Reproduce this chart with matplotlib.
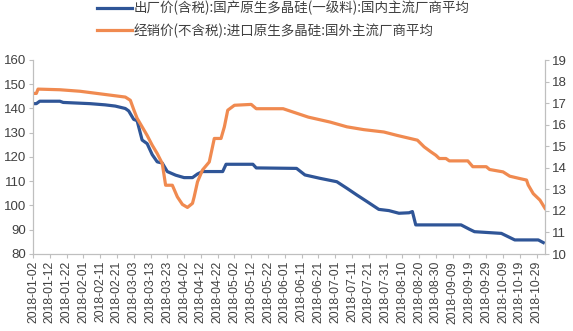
import matplotlib
matplotlib.use("Agg")
import matplotlib.pyplot as plt
import matplotlib.dates as mdates
import pandas as pd

plt.rcParams['font.family'] = ['Liberation Sans', 'Noto Sans CJK SC', 'DejaVu Sans']

blue_label = "出厂价(含税):国产原生多晶硅(一级料):国内主流厂商平均"
orange_label = "经销价(不含税):进口原生多晶硅:国外主流厂商平均"

blue_dates = ["2018-01-02", "2018-01-04", "2018-01-06", "2018-01-18", "2018-01-20", "2018-02-05",
              "2018-02-14", "2018-02-20", "2018-02-26", "2018-02-28", "2018-03-03", "2018-03-05",
              "2018-03-08", "2018-03-11", "2018-03-14", "2018-03-17", "2018-03-20", "2018-03-23",
              "2018-03-28", "2018-04-02", "2018-04-07", "2018-04-10", "2018-04-13", "2018-04-25",
              "2018-04-27", "2018-05-13", "2018-05-15", "2018-06-08", "2018-06-13", "2018-06-22",
              "2018-07-02", "2018-07-08", "2018-07-14", "2018-07-20", "2018-07-27", "2018-08-02",
              "2018-08-08", "2018-08-14", "2018-08-16", "2018-08-18", "2018-09-14", "2018-09-19",
              "2018-09-22", "2018-10-08", "2018-10-16", "2018-10-30", "2018-11-02"]
blue_values = [142, 142, 143, 143, 142.5, 142,
               141.5, 141, 140, 139, 135.5, 135,
               127, 125.5, 121, 118, 117.5, 114,
               112.5, 111.5, 111.5, 113, 114, 114,
               117, 117, 115.5, 115.3, 112.6, 111.2,
               109.8, 107.1, 104.3, 101.6, 98.4, 97.9,
               96.8, 97, 97.5, 92, 92, 90.2,
               89.2, 88.5, 85.8, 85.8, 84.7]

orange_dates = ["2018-01-02", "2018-01-04", "2018-01-05", "2018-01-18", "2018-01-30", "2018-02-14",
                "2018-02-26", "2018-03-01", "2018-03-03", "2018-03-05", "2018-03-08", "2018-03-11",
                "2018-03-14", "2018-03-17", "2018-03-20", "2018-03-22", "2018-03-26", "2018-03-29",
                "2018-04-01", "2018-04-04", "2018-04-07", "2018-04-08", "2018-04-10", "2018-04-13",
                "2018-04-17", "2018-04-20", "2018-04-24", "2018-04-26", "2018-04-28", "2018-05-02",
                "2018-05-12", "2018-05-15", "2018-05-31", "2018-06-15", "2018-06-28", "2018-07-08",
                "2018-07-18", "2018-07-30", "2018-08-07", "2018-08-19", "2018-08-23", "2018-08-27",
                "2018-08-30", "2018-09-01", "2018-09-05", "2018-09-07", "2018-09-18", "2018-09-21",
                "2018-09-29", "2018-10-01", "2018-10-09", "2018-10-13", "2018-10-19", "2018-10-23",
                "2018-10-24", "2018-10-27", "2018-10-31", "2018-11-03"]
orange_values = [17.45, 17.45, 17.65, 17.62, 17.55, 17.4,
                 17.28, 17.13, 16.7, 16.3, 15.9, 15.5,
                 15.05, 14.66, 14.2, 13.19, 13.19, 12.65,
                 12.3, 12.16, 12.35, 12.65, 13.35, 13.9,
                 14.27, 15.36, 15.36, 15.9, 16.67, 16.9,
                 16.94, 16.74, 16.74, 16.35, 16.12, 15.9,
                 15.77, 15.66, 15.5, 15.28, 14.97, 14.74,
                 14.58, 14.43, 14.43, 14.32, 14.32, 14.05,
                 14.05, 13.92, 13.81, 13.61, 13.5, 13.43,
                 13.2, 12.8, 12.5, 12.12]

tick_start = "2018-01-02"
tick_end = "2018-10-29"

blue_x = pd.to_datetime(blue_dates)
orange_x = pd.to_datetime(orange_dates)

fig = plt.figure(figsize=(5.73, 3.31), dpi=100)
ax = fig.add_axes([33/573, 1-254/331, (545-33)/573, (254-60)/331])
ax2 = ax.twinx()

blue_c = "#2F5597"
orange_c = "#F08A50"
l1, = ax.plot(blue_x, blue_values, color=blue_c, lw=2.3, solid_joinstyle='round')
l2, = ax2.plot(orange_x, orange_values, color=orange_c, lw=2.3, solid_joinstyle='round')

ax.set_ylim(80, 160)
ax.set_yticks(range(80, 161, 10))
ax2.set_ylim(10, 19)
ax2.set_yticks(range(10, 20, 1))

ticks = pd.date_range(tick_start, tick_end, freq="10D")
ax.set_xticks(ticks)
ax.xaxis.set_major_formatter(mdates.DateFormatter("%Y-%m-%d"))
ax.set_xlim(pd.Timestamp("2018-01-02"), pd.Timestamp("2018-11-03"))
for lab in ax.get_xticklabels():
    lab.set_rotation(90)

txt_c = "#404040"
spine_c = "#BFBFBF"
for a in (ax, ax2):
    a.spines['top'].set_visible(False)
    for s in ('left', 'right', 'bottom'):
        a.spines[s].set_color(spine_c)
        a.spines[s].set_linewidth(0.8)
ax.tick_params(axis='x', colors=spine_c, labelcolor=txt_c, labelsize=8.8, length=3, width=0.8, pad=2)
ax.tick_params(axis='y', colors=spine_c, labelcolor=txt_c, labelsize=9.5, length=3, width=0.8, pad=2)
ax2.tick_params(axis='y', colors=spine_c, labelcolor=txt_c, labelsize=9.5, length=3, width=0.8, pad=2)

leg = fig.legend([l1, l2], [blue_label, orange_label], loc='upper center',
                 bbox_to_anchor=(0.495, 1.035), frameon=False, ncol=1,
                 prop={'family': ['Noto Sans CJK SC', 'DejaVu Sans'], 'size': 9.7},
                 handlelength=2.6, handletextpad=0.1, labelspacing=0.6)
for t in leg.get_texts():
    t.set_color(txt_c)

fig.savefig("out.png", dpi=100)
